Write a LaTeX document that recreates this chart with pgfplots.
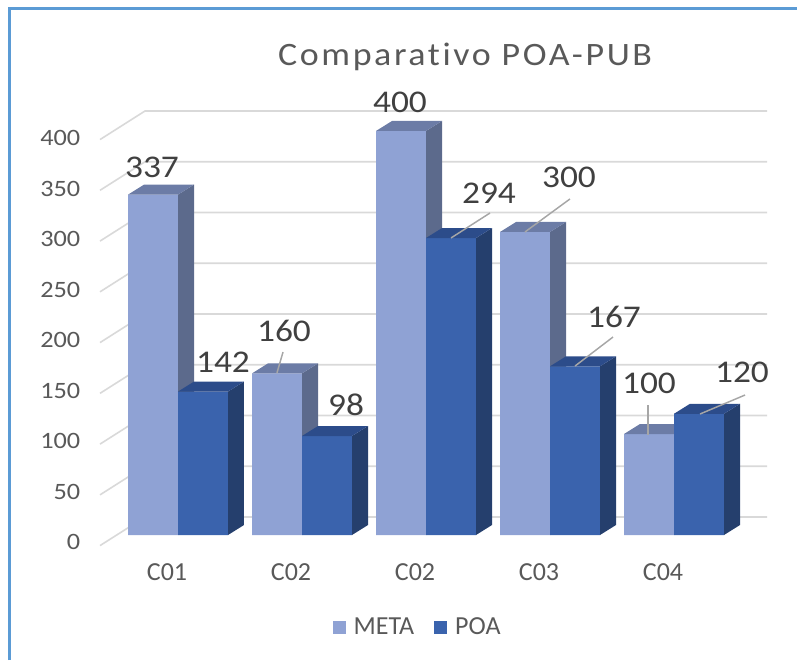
\documentclass[border=0pt]{standalone}
\usepackage{pgfplots}
\pgfplotsset{compat=1.18}
\usepackage{fontspec}
\setmainfont{Carlito}
\newfontfamily\numfont{Carlito}[FakeStretch=1.12]
\newfontfamily\titlefont{Carlito}[FakeStretch=1.1,LetterSpace=8,Ligatures=NoCommon]
\definecolor{metaF}{HTML}{8FA2D4}
\definecolor{metaS}{HTML}{5C6A8C}
\definecolor{metaT}{HTML}{6C7CA6}
\definecolor{poaF}{HTML}{3A63AD}
\definecolor{poaS}{HTML}{253F6D}
\definecolor{poaT}{HTML}{2C4C8A}
\definecolor{gridc}{HTML}{D9D9D9}
\definecolor{txt}{HTML}{595959}
\definecolor{lbl}{HTML}{404040}
\definecolor{borderc}{HTML}{5B9BD5}
\definecolor{lead}{HTML}{A6A6A6}
% 3D side and top faces of one bar: #1 right front edge, #2 value
\newcommand\sides[4]{%
  \pgfmathsetmacro\xa{#1}%
  \pgfmathsetmacro\xb{#1+0.129}%
  \pgfmathsetmacro\xl{#1-0.4032}%
  \pgfmathsetmacro\xlb{#1-0.4032+0.129}%
  \pgfmathsetmacro\vt{#2+9.9}%
  \edef\tmp{\noexpand\addplot[fill=#3,draw=none,forget plot] coordinates {(\xa,0) (\xb,9.9) (\xb,\vt) (\xa,#2)} -- cycle;
  \noexpand\addplot[fill=#4,draw=none,forget plot] coordinates {(\xl,#2) (\xlb,\vt) (\xb,\vt) (\xa,#2)} -- cycle;}%
  \tmp}
% gridline on back wall and side wall for value #1
\newcommand\gridl[1]{%
  \pgfmathsetmacro\vf{#1*1.005-10.5}%
  \pgfmathsetmacro\vb{#1*1.005+17.8}%
  \edef\tmp{\noexpand\addplot[gridc,line width=1.2pt,forget plot] coordinates {(-0.629,\vf) (-0.266,\vb) (4.750,\vb)};}%
  \tmp}
\begin{document}
\begin{tikzpicture}
\begin{axis}[
  x=93pt, y=0.7575pt,
  xmin=-0.75, xmax=4.9919, ymin=-19.8, ymax=529.7,
  clip=false,
  axis line style={draw=none},
  tick style={draw=none},
  xtick={0,1,2,3,4},
  xticklabels={C01,C02,C02,C03,C04},
  xticklabel style={font=\fontsize{19.5}{22}\selectfont, text=txt, xshift=-8.25pt, yshift=-3pt},
  ytick={0,50,...,400},
  /pgf/number format/assume math mode=true,
  yticklabel style={font=\fontsize{17.6}{20}\numfont, text=txt, yshift=-5.25pt},
  legend style={at={(axis cs:1.935,-91.1)}, anchor=center, draw=none, fill=none,
    legend columns=2, font=\fontsize{19.5}{22}\selectfont, text=txt,
    nodes={inner xsep=2pt},
    /tikz/every odd column/.append style={column sep=4pt},
    /tikz/every even column/.append style={column sep=13pt}},
  legend image code/.code={\fill[#1] (0pt,-4.875pt) rectangle (9.75pt,4.875pt);},
]
% page border
\addplot[borderc, line width=2.25pt, forget plot] coordinates {(-1.3629,-123.8) (-1.3629,520.8) (4.9919,520.8)};
% gridlines
\gridl{0}\gridl{50}\gridl{100}\gridl{150}\gridl{200}\gridl{250}\gridl{300}\gridl{350}\gridl{400}
% META
\addplot[ybar, bar width=0.4032, bar shift=-0.2016, fill=metaF, draw=none]
  coordinates {(0,337) (1,160) (2,400) (3,300) (4,100)};
\addlegendentry{META}
\sides{0}{337}{metaS}{metaT}
\sides{1}{160}{metaS}{metaT}
\sides{2}{400}{metaS}{metaT}
\sides{3}{300}{metaS}{metaT}
\sides{4}{100}{metaS}{metaT}
% POA
\addplot[ybar, bar width=0.4032, bar shift=0.2016, fill=poaF, draw=none]
  coordinates {(0,142) (1,98) (2,294) (3,167) (4,120)};
\addlegendentry{POA}
\sides{0.4032}{142}{poaS}{poaT}
\sides{1.4032}{98}{poaS}{poaT}
\sides{2.4032}{294}{poaS}{poaT}
\sides{3.4032}{167}{poaS}{poaT}
\sides{4.4032}{120}{poaS}{poaT}
% leader lines
\addplot[lead, line width=1.1pt, forget plot] coordinates {(0.847,181.2) (0.798,160.4)};
\addplot[lead, line width=1.1pt, forget plot] coordinates {(2.516,318.8) (2.202,294.1)};
\addplot[lead, line width=1.1pt, forget plot] coordinates {(3.161,332.7) (2.798,300.0)};
\addplot[lead, line width=1.1pt, forget plot] coordinates {(3.508,196.0) (3.202,167.3)};
\addplot[lead, line width=1.1pt, forget plot] coordinates {(3.790,128.7) (3.790,99.0)};
\addplot[lead, line width=1.1pt, forget plot] coordinates {(4.573,138.6) (4.210,119.8)};
% data labels
\begin{scope}[every node/.style={inner sep=0pt, text=lbl, font=\fontsize{23.7}{28}\numfont}]
\node at (axis cs:-0.2097,364.4) {337};
\node at (axis cs:0.3629,171.3) {142};
\node at (axis cs:0.8548,202.0) {160};
\node at (axis cs:1.3548,128.7) {98};
\node at (axis cs:1.790,428.7) {400};
\node at (axis cs:2.508,338.6) {294};
\node at (axis cs:3.153,354.5) {300};
\node at (axis cs:3.516,215.8) {167};
\node at (axis cs:3.798,150.5) {100};
\node at (axis cs:4.548,161.4) {120};
\end{scope}
% title
\node[anchor=base, inner sep=0pt, text=txt, font=\fontsize{24.5}{29}\titlefont] at (axis cs:2.315,465.3) {Comparativo POA-PUB};
\coordinate (BL) at (axis cs:-1.4355,-123.8);
\coordinate (TR) at (axis cs:4.9919,529.7);
\end{axis}
\pgfresetboundingbox
\path[use as bounding box] (BL) rectangle (TR);
\end{tikzpicture}
\end{document}
